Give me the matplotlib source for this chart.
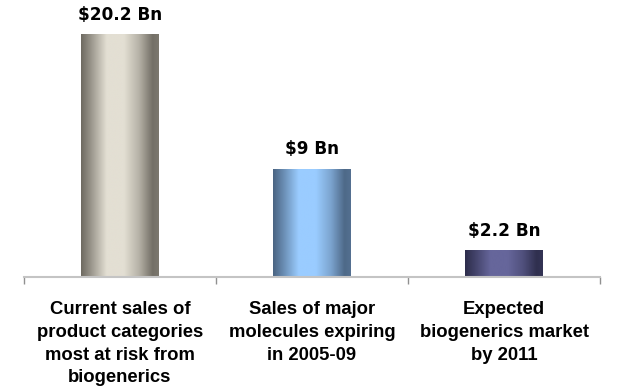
import numpy as np
import matplotlib
matplotlib.use("Agg")
import matplotlib.pyplot as plt
from matplotlib.colors import LinearSegmentedColormap

plt.rcParams['font.family'] = ['Liberation Sans', 'DejaVu Sans']

categories = [
    "Current sales of\nproduct categories\nmost at risk from\nbiogenerics",
    "Sales of major\nmolecules expiring\nin 2005-09",
    "Expected\nbiogenerics market\nby 2011",
]
values = [20.2, 9.0, 2.2]
value_labels = ["$20.2 Bn", "$9 Bn", "$2.2 Bn"]

# edge / centre shades for the cylindrical gradient of each bar
shades = [
    ("#6e6a61", "#e3dfd3"),
    ("#4a6482", "#9accff"),
    ("#2d2d4b", "#66669b"),
]

W, H = 636, 388
fig = plt.figure(figsize=(W / 100, H / 100), dpi=100)
ax = fig.add_axes([24 / W, 1 - 277 / H, (600 - 24) / W, (277 - 13) / H])

x = np.arange(len(values))
bar_w = 0.405

# brightness profile across the bar width: dark edges, bright band left of centre
stops_t = [0.0, 0.12, 0.33, 0.55, 0.75, 0.92, 1.0]
stops_v = [0.0, 0.35, 1.0, 1.0, 0.6, 0.05, 0.12]
t = np.linspace(0, 1, 256)
profile = np.interp(t, stops_t, stops_v)

for xi, v, (edge, centre), lab in zip(x, values, shades, value_labels):
    cmap = LinearSegmentedColormap.from_list("c", [edge, centre])
    ax.imshow(profile[np.newaxis, :], cmap=cmap, vmin=0, vmax=1, aspect='auto',
              extent=(xi - bar_w / 2, xi + bar_w / 2, 0, v),
              interpolation='bilinear', zorder=2)
    ax.annotate(lab, xy=(xi, v), xytext=(0, 10.8), textcoords='offset points',
                ha='center', va='baseline', fontsize=12.2, fontweight='bold',
                family=['DejaVu Sans'], color='black')

ax.set_xlim(-0.5, len(values) - 0.5)
ax.set_ylim(0, 22.0)

for s in ['top', 'right', 'left']:
    ax.spines[s].set_visible(False)
ax.spines['bottom'].set_color('#c4c4c4')
ax.spines['bottom'].set_linewidth(1.5)
ax.set_yticks([])
ax.set_xticks([-0.5, 0.5, 1.5, 2.5])
ax.set_xticklabels([])
ax.tick_params(axis='x', direction='out', length=5, color='#909090', width=1)

for xi, cat in zip(x, categories):
    ax.annotate(cat, xy=(xi, 0), xycoords=('data', 'axes fraction'),
                xytext=(0, -17.5), textcoords='offset points',
                ha='center', va='top', fontsize=13.3, fontweight='bold',
                linespacing=1.44, color='black')

fig.savefig("out.png", dpi=100)
